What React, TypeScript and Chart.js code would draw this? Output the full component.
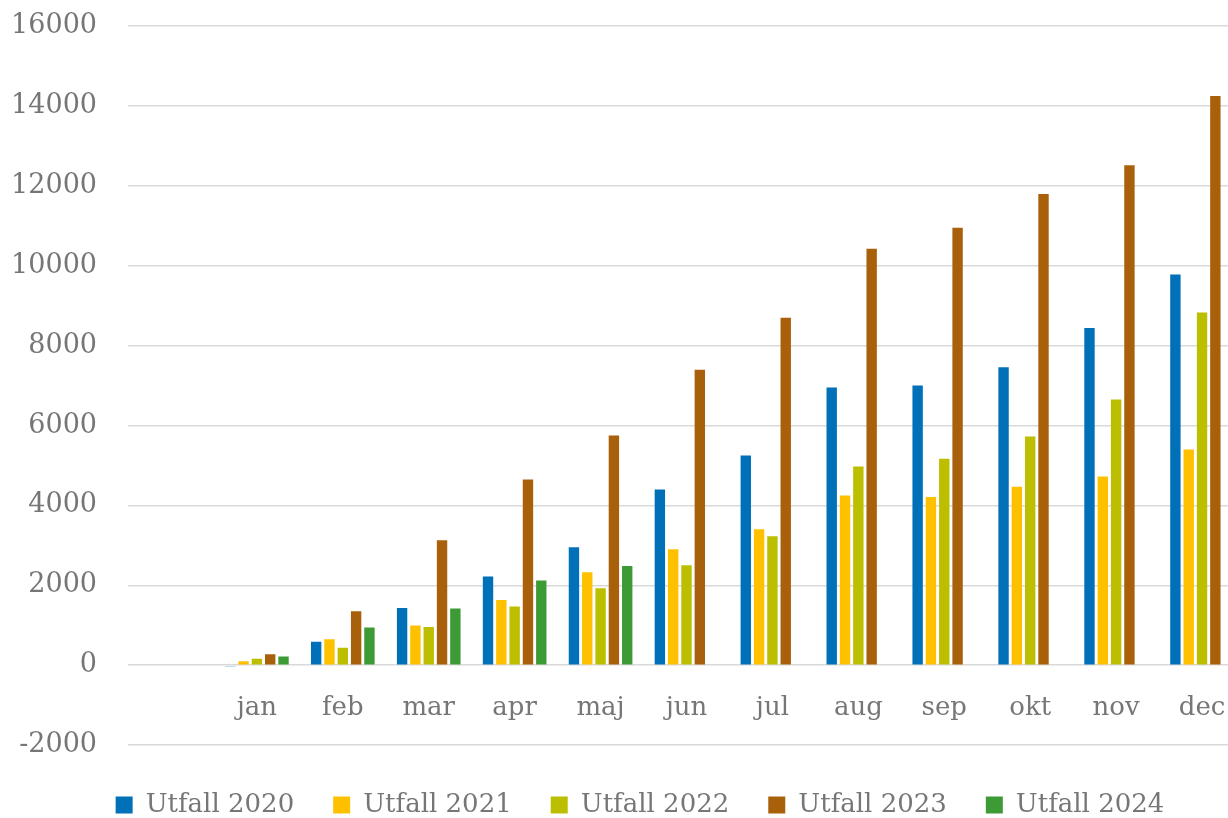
import React, { useEffect, useRef } from 'react';
import { Chart, registerables } from 'chart.js';

Chart.register(...registerables);

const categories = ['', 'jan', 'feb', 'mar', 'apr', 'maj', 'jun', 'jul', 'aug', 'sep', 'okt', 'nov', 'dec'];
const seriesNames = ['Utfall 2020', 'Utfall 2021', 'Utfall 2022', 'Utfall 2023', 'Utfall 2024'];
const utfall2020 = [null, -30, 583, 1433, 2217, 2950, 4400, 5250, 6950, 7000, 7458, 8442, 9783];
const utfall2021 = [null, 100, 650, 992, 1633, 2325, 2900, 3400, 4250, 4208, 4467, 4725, 5400];
const utfall2022 = [null, 160, 433, 958, 1467, 1925, 2500, 3225, 4975, 5167, 5725, 6650, 8833];
const utfall2023 = [null, 275, 1350, 3125, 4650, 5750, 7400, 8700, 10425, 10950, 11800, 12517, 14250];
const utfall2024 = [null, 215, 942, 1417, 2117, 2483, null, null, null, null, null, null, null];
const seriesColors = ['#0070B8', '#FFC000', '#BCBE00', '#A8600A', '#3D9B35'];
const yMin = -2000;
const yMax = 16000;
const yStep = 2000;

const FONT = "'DejaVu Serif', serif";
const TEXT = '#767676';

export default function App() {
  const ref = useRef<HTMLCanvasElement | null>(null);
  useEffect(() => {
    if (!ref.current) return;
    const values = [utfall2020, utfall2021, utfall2022, utfall2023, utfall2024];
    const chart = new Chart(ref.current, {
      type: 'bar',
      data: {
        labels: categories,
        datasets: values.map((d, i) => ({
          label: seriesNames[i],
          data: d,
          backgroundColor: seriesColors[i],
          borderWidth: 0,
          categoryPercentage: 0.775,
          barPercentage: 0.78,
        })),
      },
      options: {
        responsive: false,
        animation: false,
        layout: { padding: { top: 4, bottom: 0, left: 0, right: 0 } },
        plugins: {
          tooltip: { enabled: false },
          legend: {
            position: 'bottom',
            labels: {
              color: TEXT,
              font: { family: FONT, size: 26 },
              boxWidth: 17,
              boxHeight: 17,
              padding: 39,
            },
          },
        },
        scales: {
          x: {
            position: { y: 0 } as any,
            grid: { display: false },
            border: { display: false },
            ticks: { color: TEXT, font: { family: FONT, size: 26 }, padding: 20, maxRotation: 0, autoSkip: false },
          },
          x2: {
            position: 'bottom',
            display: true,
            grid: { display: false },
            border: { display: false },
            ticks: { display: false },
            afterFit: (s: any) => { s.height = 8; },
          },
          y: {
            min: yMin,
            max: yMax,
            grid: { color: '#d9d9d9', lineWidth: 1.5, drawTicks: false },
            border: { display: false },
            ticks: {
              stepSize: yStep,
              color: TEXT,
              font: { family: FONT, size: 27 },
              padding: 31,
              callback: (v: any) => String(v),
            },
            afterFit: (s: any) => { s.width = 128; },
          },
          y2: {
            position: 'right',
            display: true,
            grid: { display: false },
            border: { display: false },
            ticks: { display: false },
            afterFit: (s: any) => { s.width = 35; },
          },
        },
      },
    });
    return () => chart.destroy();
  }, []);
  return (
    <div style={{ position: 'fixed', left: 0, top: 0, width: 1228, height: 818, overflow: 'hidden', background: '#fff' }}>
      <canvas ref={ref} width={1280} height={849} style={{ width: 1280, height: 849, display: 'block', marginTop: -21 }} />
    </div>
  );
}
